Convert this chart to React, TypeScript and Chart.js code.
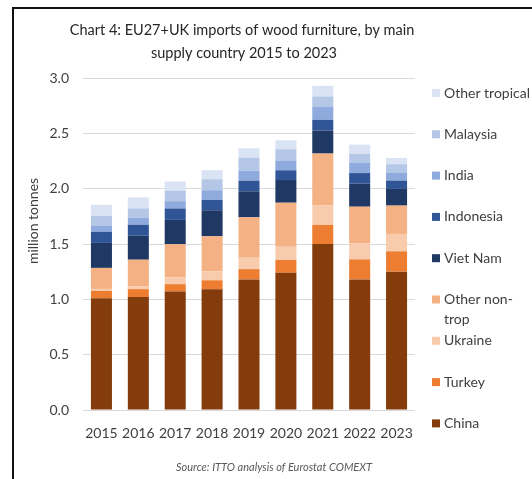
import React, { useEffect, useRef } from 'react';
import { Chart, registerables } from 'chart.js';

Chart.register(...registerables);

const years = ['2015', '2016', '2017', '2018', '2019', '2020', '2021', '2022', '2023'];

const china = [1.01, 1.02, 1.07, 1.09, 1.18, 1.24, 1.5, 1.18, 1.25];
const turkey = [0.066, 0.072, 0.067, 0.082, 0.093, 0.115, 0.172, 0.181, 0.184];
const ukraine = [0.018, 0.024, 0.06, 0.081, 0.103, 0.12, 0.175, 0.144, 0.157];
const otherNonTrop = [0.19, 0.242, 0.301, 0.317, 0.365, 0.398, 0.47, 0.332, 0.256];
const vietNam = [0.226, 0.217, 0.22, 0.235, 0.235, 0.205, 0.208, 0.208, 0.151];
const indonesia = [0.1, 0.099, 0.103, 0.093, 0.096, 0.088, 0.097, 0.096, 0.075];
const india = [0.057, 0.064, 0.066, 0.088, 0.091, 0.084, 0.12, 0.091, 0.073];
const malaysia = [0.088, 0.084, 0.094, 0.099, 0.117, 0.106, 0.091, 0.084, 0.075];
const otherTropical = [0.099, 0.099, 0.084, 0.082, 0.085, 0.081, 0.096, 0.082, 0.057];

const seriesNames = ['China', 'Turkey', 'Ukraine', 'Other non-trop', 'Viet Nam', 'Indonesia', 'India', 'Malaysia', 'Other tropical'];
const seriesData = [china, turkey, ukraine, otherNonTrop, vietNam, indonesia, india, malaysia, otherTropical];
const seriesColors = ['#843c0c', '#ed7d31', '#f8cbad', '#f4b183', '#203864', '#2f5597', '#8faadc', '#b4c7e7', '#dae3f3'];
// legend text lines (top to bottom as shown)
const legendLines: string[][] = [
  ['Other tropical'],
  ['Malaysia'],
  ['India'],
  ['Indonesia'],
  ['Viet Nam'],
  ['Other non-', 'trop'],
  ['Ukraine'],
  ['Turkey'],
  ['China'],
];

const titleLines = ['Chart 4: EU27+UK imports of wood furniture, by main', 'supply country 2015 to 2023'];
const yTitle = 'million tonnes';
const sourceText = 'Source: ITTO analysis of Eurostat COMEXT';

const FONT = 'Lato, "Open Sans", sans-serif';
const TEXT = '#404040';

export default function App() {
  const ref = useRef<HTMLCanvasElement>(null);

  useEffect(() => {
    if (!ref.current) return;

    const decor = {
      id: 'decor',
      afterDraw(chart: any) {
        const ctx = chart.ctx as CanvasRenderingContext2D;
        ctx.save();
        // frame lines
        ctx.strokeStyle = '#111';
        ctx.lineWidth = 2;
        ctx.beginPath();
        ctx.moveTo(13, 479);
        ctx.lineTo(13, 8);
        ctx.lineTo(532, 8);
        ctx.stroke();

        // title
        ctx.fillStyle = '#262626';
        ctx.textAlign = 'center';
        ctx.textBaseline = 'middle';
        ctx.font = `14.5px ${FONT}`;
        ctx.fillText(titleLines[0], 242, 30);
        ctx.fillText(titleLines[1], 244, 53);

        // y title
        ctx.save();
        ctx.translate(33, 221);
        ctx.rotate(-Math.PI / 2);
        ctx.fillStyle = TEXT;
        ctx.font = `14px ${FONT}`;
        ctx.fillText(yTitle, 0, 0);
        ctx.restore();

        // source
        ctx.fillStyle = '#595959';
        ctx.font = `italic 11px ${FONT}`;
        ctx.fillText(sourceText, 274, 467);

        // legend
        const ds = chart.data.datasets;
        const n = ds.length;
        ctx.textAlign = 'left';
        ctx.font = `14px ${FONT}`;
        for (let i = 0; i < n; i++) {
          const d = ds[n - 1 - i];
          const y = 93 + i * 41.3;
          ctx.fillStyle = d.backgroundColor;
          ctx.fillRect(432, y - 4, 8, 8);
          ctx.fillStyle = TEXT;
          const lines = legendLines[i];
          lines.forEach((l, k) => ctx.fillText(l, 444, y + k * 20));
        }
        ctx.restore();
      },
    };

    const chart = new Chart(ref.current, {
      type: 'bar',
      data: {
        labels: years,
        datasets: seriesNames.map((name, i) => ({
          label: name,
          data: seriesData[i],
          backgroundColor: seriesColors[i],
          borderWidth: 0,
          barPercentage: 0.57,
          categoryPercentage: 1,
          stack: 's',
        })),
      },
      options: {
        responsive: false,
        animation: false,
        layout: { padding: { left: 14, right: 117, top: 78, bottom: 29 } },
        plugins: {
          legend: { display: false },
          title: { display: false },
          tooltip: { enabled: false },
        },
        scales: {
          x: {
            stacked: true,
            grid: { display: false, drawTicks: false },
            border: { display: false },
            ticks: {
              color: TEXT,
              font: { family: FONT, size: 14 },
              padding: 15,
              maxRotation: 0,
              minRotation: 0,
              autoSkip: false,
            },
            afterFit: (s: any) => {
              s.height = 40;
            },
          },
          y: {
            stacked: true,
            min: 0,
            max: 3,
            ticks: {
              stepSize: 0.5,
              color: TEXT,
              font: { family: FONT, size: 14 },
              padding: 14,
              callback: (v: any) => Number(v).toFixed(1),
            },
            grid: { color: '#d9d9d9', drawTicks: false, lineWidth: 1 },
            border: { display: false },
            afterFit: (s: any) => {
              s.width = 69;
            },
          },
        },
      },
      plugins: [decor],
    });

    return () => chart.destroy();
  }, []);

  return (
    <div style={{ position: 'absolute', left: 0, top: 0, width: 532, height: 479, background: '#fff' }}>
      <canvas ref={ref} width={532} height={479} style={{ display: 'block' }} />
    </div>
  );
}
